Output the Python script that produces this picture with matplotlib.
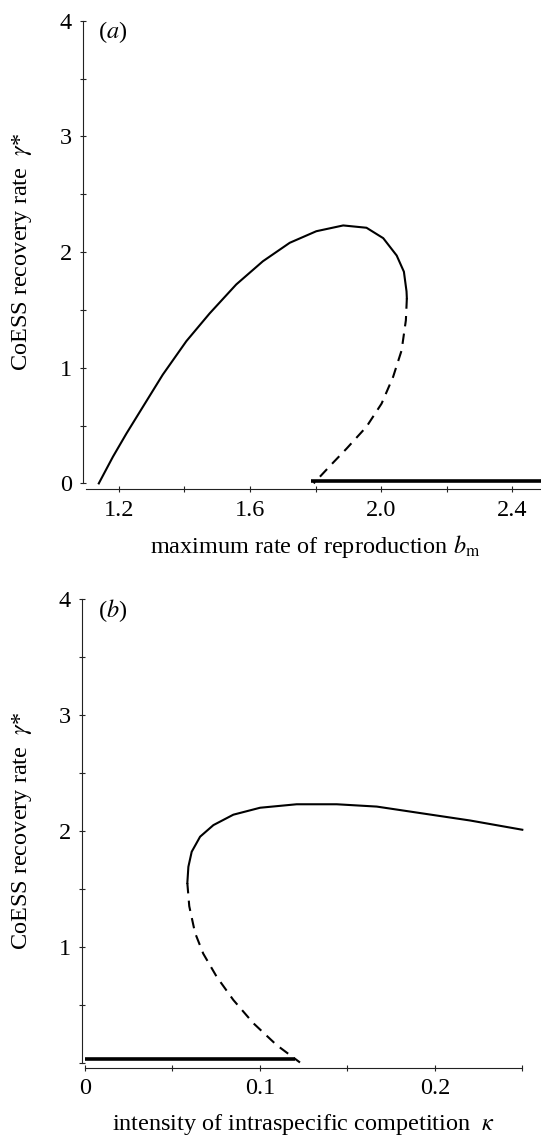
import matplotlib
matplotlib.use("Agg")
import matplotlib.pyplot as plt

plt.rcParams.update({
    "font.family": "Liberation Serif",
    "mathtext.fontset": "stix",
    "font.size": 17.5,
})

# panel (a): gamma* vs maximum rate of reproduction b_m
a_solid_x = [1.139, 1.182, 1.223, 1.273, 1.334, 1.406, 1.477, 1.558, 1.639,
             1.721, 1.802, 1.884, 1.955, 2.006, 2.047, 2.069, 2.077, 2.078]
a_solid_y = [0.00, 0.23, 0.43, 0.66, 0.94, 1.23, 1.47, 1.72, 1.92,
             2.08, 2.18, 2.23, 2.21, 2.12, 1.97, 1.83, 1.66, 1.60]
a_dash_x = [2.078, 2.075, 2.062, 2.036, 2.001, 1.955, 1.894, 1.845, 1.794]
a_dash_y = [1.60, 1.41, 1.15, 0.92, 0.69, 0.49, 0.30, 0.155, 0.00]
a_flat_x = [1.787, 2.50]
a_flat_y = [0.024, 0.024]

# panel (b): gamma* vs intensity of intraspecific competition kappa
b_solid_x = [0.0585, 0.0591, 0.0610, 0.0658, 0.0734, 0.0848, 0.1001, 0.1210,
             0.1439, 0.1668, 0.1934, 0.2201, 0.2500]
b_solid_y = [1.55, 1.69, 1.82, 1.95, 2.05, 2.14, 2.20, 2.23,
             2.23, 2.21, 2.15, 2.09, 2.01]
b_dash_x = [0.0585, 0.0596, 0.0629, 0.0676, 0.0753, 0.0848, 0.0962, 0.1096, 0.1229]
b_dash_y = [1.55, 1.35, 1.12, 0.94, 0.74, 0.54, 0.34, 0.15, 0.00]
b_flat_x = [0.0, 0.120]
b_flat_y = [0.028, 0.028]

a_xticks = [1.2, 1.4, 1.6, 1.8, 2.0, 2.2, 2.4]
a_xlabels = ["1.2", "", "1.6", "", "2.0", "", "2.4"]
b_xticks = [0, 0.05, 0.1, 0.15, 0.2, 0.25]
b_xlabels = ["0", "", "0.1", "", "0.2", ""]
yticks = [0, 0.5, 1, 1.5, 2, 2.5, 3, 3.5, 4]
a_ylabels = ["0", "", "1", "", "2", "", "3", "", "4"]
b_ylabels = ["", "", "1", "", "2", "", "3", "", "4"]

ylab = r"CoESS recovery rate  $\gamma$*"

fig = plt.figure(figsize=(5.41, 11.37), dpi=100)
ax_a = fig.add_axes([86 / 541, 1 - 483.4 / 1137, 459.3 / 541, 462.7 / 1137])
ax_b = fig.add_axes([85 / 541, 1 - 1062.5 / 1137, 437.3 / 541, 463.2 / 1137])


def style(ax, xlim, xticks, xlabels, ylabels, xlabel, tag, boff, tagx, ylx):
    ax.set_xlim(*xlim)
    ax.set_ylim(0, 4)
    for s in ("top", "right"):
        ax.spines[s].set_visible(False)
    ax.spines["left"].set_position(("outward", 2.5))
    ax.spines["bottom"].set_position(("outward", boff))
    for s in ("left", "bottom"):
        ax.spines[s].set_linewidth(0.8)
        ax.spines[s].set_color("#222222")
    ax.set_xticks(xticks)
    ax.set_xticklabels(xlabels)
    ax.set_yticks(yticks)
    ax.set_yticklabels(ylabels)
    ax.tick_params(direction="inout", length=5, width=0.8, color="#222222",
                   labelsize=17.5, pad=5)
    ax.set_xlabel(xlabel, fontsize=17.5, labelpad=9)
    ax.set_ylabel(ylab, fontsize=17.5)
    ax.yaxis.set_label_coords(ylx, 0.5)
    ax.patch.set_visible(False)
    ax.text(tagx, 0.975, tag, transform=ax.transAxes, fontsize=17.5,
            ha="left", va="center")


ax_a.plot(a_solid_x, a_solid_y, color="black", lw=1.5, clip_on=False)
ax_a.plot(a_dash_x, a_dash_y, color="black", lw=1.5, ls=(0, (5, 3.5)), clip_on=False)
ax_a.plot(a_flat_x, a_flat_y, color="black", lw=2.6, clip_on=False, solid_capstyle="butt")
style(ax_a, (1.1, 2.5), a_xticks, a_xlabels, a_ylabels,
      r"maximum rate of reproduction $b_{\mathrm{m}}$", r"($a$)", 4.3, 0.026, -0.113)

ax_b.plot(b_solid_x, b_solid_y, color="black", lw=1.5, clip_on=False)
ax_b.plot(b_dash_x, b_dash_y, color="black", lw=1.5, ls=(0, (5, 3.5)), clip_on=False)
ax_b.plot(b_flat_x, b_flat_y, color="black", lw=2.6, clip_on=False, solid_capstyle="butt")
style(ax_b, (0, 0.25), b_xticks, b_xlabels, b_ylabels,
      r"intensity of intraspecific competition  $\kappa$", r"($b$)", 3.7, 0.03, -0.117)

fig.savefig("out.png", dpi=100)
